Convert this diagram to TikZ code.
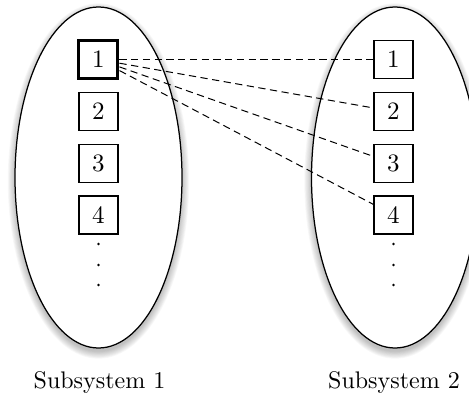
\documentclass[tikz,border=0pt]{standalone}
\begin{document}
\begin{tikzpicture}[x=0.4pt,y=-0.4pt,
  cell/.style={draw,line width=0.5pt,minimum width=15.6pt,minimum height=15.2pt,inner sep=0pt},
  selcell/.style={cell,line width=1.2pt},
  link/.style={dash pattern=on 2.9pt off 1.8pt,line width=0.4pt},
  vdots/.style={circle,fill,inner sep=0pt,minimum size=1.1pt},
  caption/.style={inner sep=0pt,font=\fontsize{9.6}{11}\selectfont}]
  \useasboundingbox (0,0) rectangle (469,399);
  \clip (0,0) rectangle (469,399);
  % soft shadows behind the two subsystems
  \foreach \cx in {98.5,395}{
    \foreach \r in {0,1,...,9}{
      \fill[black,opacity=0.028] (\cx,181) ellipse ({83.5+\r*0.8} and {170.5+\r*0.8});
    }
    \filldraw[fill=white,draw=black,line width=0.5pt] (\cx,177.5) ellipse (83.5 and 170.5);
  }
  % cells of subsystem 1
  \node[selcell] (l1) at (98.5,59.5) {1};
  \node[cell] (l2) at (98.5,111.5) {2};
  \node[cell] (l3) at (98.5,163.5) {3};
  \node[cell] (l4) at (98.5,215) {4};
  \node[vdots] (ld1) at (98.5,244) {};
  \node[vdots] (ld2) at (98.5,265) {};
  \node[vdots] (ld3) at (98.5,285) {};
  % cells of subsystem 2
  \node[cell] (r1) at (393.5,59.5) {1};
  \node[cell] (r2) at (393.5,111.5) {2};
  \node[cell] (r3) at (393.5,163.5) {3};
  \node[cell] (r4) at (393.5,215) {4};
  \node[vdots] (rd1) at (393.5,244) {};
  \node[vdots] (rd2) at (393.5,265) {};
  \node[vdots] (rd3) at (393.5,285) {};
  % couplings
  \foreach \k in {1,2,3,4}{
    \draw[link] (l1) -- (r\k);
  }
  % captions
  \node[caption] (c1) at (99.5,383) {Subsystem 1};
  \node[caption] (c2) at (394,383) {Subsystem 2};
\end{tikzpicture}
\end{document}
